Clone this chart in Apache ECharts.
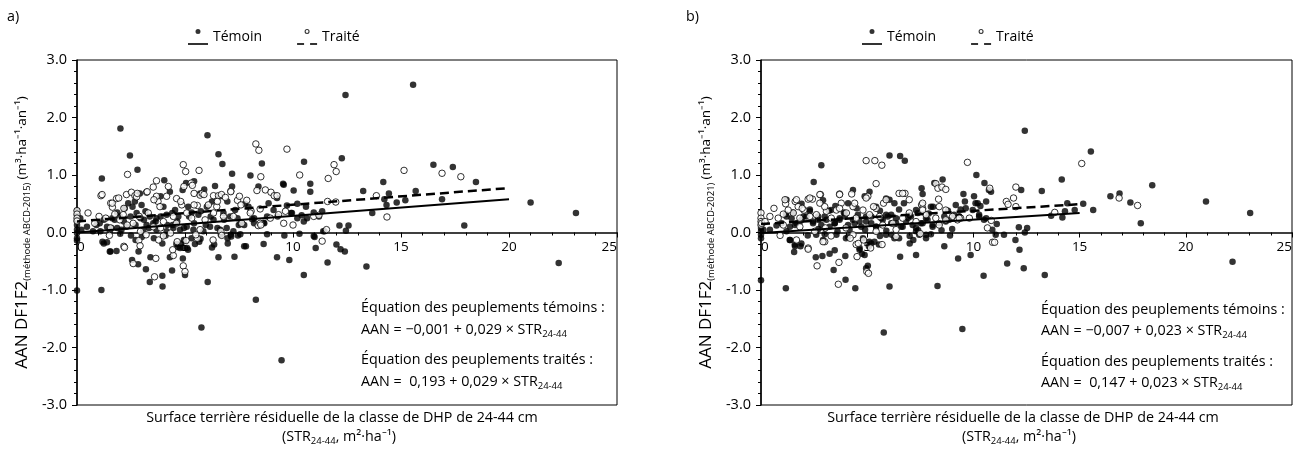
<!DOCTYPE html>
<html>
<head>
<meta charset="utf-8">
<script src="https://cdn.jsdelivr.net/npm/echarts@6/dist/echarts.min.js"></script>
<style>
  body { margin: 0; background: #fff; }
  #chart { width: 1295px; height: 451px; }
</style>
</head>
<body>
<div id="chart"></div>
<script>
// a) ABCD-2015 — témoins (points pleins)
const temoinA = [
  [0,0.38],[0,0.3],[0,0.2],[0,0.13],[0,0.05],[0,-0.01],[0,-0.1],[0,-0.14],[0,-1.01],
  [2.01,1.81],[2.45,1.34],[2.80,1.09],[1.15,0.94],[6.04,1.69],[6.55,1.36],[6.73,1.19],[7.18,1.02],[4.04,0.91],
  [8.56,1.20],[8.03,0.99],[10.51,1.23],[9.57,0.83],[10.8,0.85],[10.8,0.71],[10.6,0.45],[10.5,0.19],
  [12.43,2.39],[15.56,2.57],[12.26,1.29],[13.25,0.72],[14.18,0.88],[16.5,1.18],[17.4,1.14],[18.47,0.88],
  [14.23,0.58],[14.44,0.68],[14.33,0.48],[14.8,0.52],[15.2,0.56],[15.68,0.72],[16.9,0.58],[13.67,0.34],
  [21.0,0.52],[23.1,0.34],[17.93,0.12],[12.15,0.12],[12.57,0.12],[12.45,0.03],[11.46,0.02],
  [0.15,0.25],[0.74,0.02],[1.05,0.16],[1.24,0.22],[1.59,0.08],[1.75,0.22],[1.86,0.35],[1.98,0.28],[2.21,0.42],
  [2.37,0.51],[2.57,0.45],[2.68,0.54],[2.76,0.34],[2.91,0.68],[2.99,0.48],[3.1,0.22],[3.37,0.28],[3.53,0.16],
  [3.68,0.25],[3.87,0.63],[4.0,0.45],[4.15,0.31],[4.3,0.71],[4.43,0.13],[4.54,0.39],[4.69,0.28],[4.89,0.74],
  [5.05,0.86],[5.15,0.45],[5.31,0.35],[5.42,0.89],[5.62,0.31],[5.70,0.68],[5.89,0.75],[6.01,0.45],[6.25,0.54],
  [6.32,0.22],[6.39,0.81],[6.62,0.63],[6.78,0.34],[6.96,0.54],[7.09,0.28],[7.18,0.80],[7.32,0.39],[7.49,0.13],
  [7.58,0.16],[7.78,0.50],[7.94,0.45],[8.11,0.23],[8.2,0.16],[8.4,0.80],[8.64,0.17],[8.8,0.28],[8.87,0.51],
  [9.1,0.39],[9.26,0.60],[9.54,0.85],[9.72,0.47],[9.95,0.34],[10.03,0.73],[10.2,0.50],[10.4,0.30],[10.65,0.25],
  [10.96,0.35],[11.2,0.28],[11.35,0.37],
  [0.2,0.05],[0.46,0.10],[0.9,0.13],[1.52,0.02],[2.06,0.05],[2.29,0.10],[3.07,0.05],[3.22,0.13],[3.68,0.05],
  [4.15,0.02],[4.46,0.08],[4.77,0.05],[5.08,0.10],[5.39,0.05],[5.85,0.02],[6.16,0.10],[6.63,0.05],[6.93,0.08],[7.24,0.02],
  [1.08,0.02],[1.39,0.10],[1.63,0.25],[1.86,0.08],[2.17,0.19],[2.48,0.28],[2.71,0.13],[2.94,0.25],[3.17,0.37],
  [3.33,0.08],[3.64,0.19],[3.87,0.28],[4.18,0.13],[4.41,0.34],[4.64,0.19],[4.95,0.08],[5.19,0.28],[5.42,0.16],
  [5.73,0.37],[5.96,0.13],[6.19,0.28],[6.5,0.08],[6.81,0.22],[7.12,-0.04],[7.43,0.25],[7.74,0.13],[8.2,0.25],
  [8.67,0.16],[9.29,0.28],[9.91,0.34],[10.2,0.25],
  [1.24,-0.19],[1.55,-0.33],[2.71,-0.13],[3.56,-0.1],[3.95,-0.19],[4.95,-0.13],[5.1,-0.27],[6.35,-0.21],[6.97,-0.1],[7.74,-0.24],
  [1.13,-1.0],[1.18,-0.16],[1.39,-0.17],[1.52,-0.33],[1.83,-0.32],[2.55,-0.48],[2.83,-0.55],[2.85,-0.33],[3.19,-0.64],
  [3.37,-0.86],[3.4,-0.43],[3.96,-0.94],[3.95,-0.75],[4.3,-0.43],[4.4,-0.66],[4.6,-0.2],[4.66,-0.25],[4.77,-0.27],
  [4.9,-0.26],[4.82,-0.19],[4.9,-0.45],[5.0,-0.74],[5.14,-0.30],[5.3,-0.1],[5.46,-0.2],[5.66,-0.16],[5.72,-0.11],
  [5.76,-1.65],[6.05,-0.86],[6.25,-0.26],[6.55,-0.43],[6.66,-0.04],[6.98,-0.19],[7.14,-0.07],[7.29,-0.42],[7.45,-0.05],
  [7.56,-0.03],[7.82,-0.24],[8.28,-1.17],[8.64,-0.2],[9.26,-0.43],[9.47,-2.22],[9.83,-0.48],[10.5,-0.74],[10.96,-0.06],
  [11.0,-0.08],[11.05,-0.27],[11.6,-0.52],[11.4,0.02],[12.01,-0.21],[12.2,-0.29],[12.4,-0.33],[13.4,-0.59],[22.3,-0.53],
  [2.0,-0.02],[2.5,-0.05],[3.0,-0.08],[4.1,-0.05],[8.8,-0.03],[9.6,-0.05],[10.3,-0.02]
]

// a) ABCD-2015 — traités (cercles vides)
const traiteA = [
  [0,0.38],[0,0.32],[0,0.25],[0,0.2],
  [2.34,1.01],[1.11,0.64],[4.92,1.18],[5.03,1.06],[5.65,1.08],[3.68,0.90],[8.28,1.54],[8.42,1.43],[8.51,0.97],
  [9.72,1.45],[10.31,1.00],[11.63,0.94],[11.6,0.54],[11.9,1.18],[12.0,1.06],[13.86,0.64],[15.14,1.08],[16.9,1.03],
  [17.77,0.97],[14.35,0.27],[11.98,0.53],
  [1.02,0.28],[0.82,0.16],[1.33,0.25],[1.56,0.51],[1.64,0.44],[1.83,0.59],[2.29,0.66],[2.52,0.70],[2.68,0.64],
  [2.76,0.62],[3.22,0.70],[3.53,0.79],[3.75,0.54],[3.84,0.45],[3.68,0.63],[4.15,0.63],[4.23,0.80],[4.61,0.59],
  [4.85,0.48],[4.95,0.80],[5.29,0.86],[5.34,0.82],[5.42,0.68],[5.57,0.47],[5.70,0.65],[5.8,0.68],[6.08,0.48],
  [6.32,0.64],[6.55,0.64],[6.69,0.66],[6.87,0.61],[7.12,0.72],[7.43,0.56],[7.52,0.63],[7.59,0.48],[7.86,0.56],
  [8.06,0.37],[8.33,0.73],[8.39,0.12],[8.72,0.74],[8.98,0.70],[9.13,0.64],[9.26,0.64],[9.33,0.31],[8.48,0.41],
  [10.0,0.13],[10.96,0.28],[11.2,0.30],[11.55,0.05],
  [0.51,0.34],[1.75,0.32],[1.98,0.22],[2.14,0.31],[2.6,0.16],[2.88,0.28],[3.3,0.34],[3.53,0.10],[4.0,0.19],
  [4.46,0.28],[4.6,0.16],[5.08,0.34],[5.31,0.25],[5.7,0.05],[5.93,0.22],[6.32,0.34],[6.47,0.45],[6.78,0.28],
  [7.24,0.28],[7.63,0.16],[8.02,0.34],[8.48,0.16],[8.95,0.25],[9.57,0.16],[9.65,0.37],
  [1.16,0.66],[1.63,0.51],[2.17,0.42],[1.93,0.60],[2.79,0.68],[3.25,0.71],[3.56,0.57],[4.8,0.54],[5.42,0.48],
  [5.88,0.66],[6.5,0.54],[7.12,0.71],[1.55,0.08],[2.32,0.13],[2.94,0.02],[3.87,0.08],[4.33,-0.01],[4.64,-0.16],
  [5.57,-0.1],[2.17,-0.24],[6.66,0.02],[8.51,0.13],
  [2.2,-0.26],[2.6,-0.54],[2.86,-0.14],[2.92,-0.23],[3.59,-0.77],[3.65,-0.45],[3.78,-0.13],[4.46,-0.40],[4.43,-0.30],
  [4.92,-0.58],[5.0,-0.68],[5.05,-0.14],[6.3,-0.13],[6.7,-0.05],[11.35,-0.15],[1.5,-0.05],[3.2,-0.04],[4.0,-0.06],[5.5,-0.04]
]

// b) ABCD-2021 — témoins
const temoinB = [
  [0,0.08],[0,0.02],[0,-0.04],[0,-0.1],[0,-0.83],
  [2.84,1.17],[2.48,0.88],[6.05,1.34],[6.55,1.33],[6.77,1.25],[10.14,1.0],
  [1.2,0.57],[1.17,0.32],[1.91,0.5],[2.92,0.56],[4.33,0.74],[3.5,0.46],[4.1,0.51],[4.88,0.63],[5.11,0.71],
  [5.89,0.59],[6.05,0.57],[6.28,0.51],[6.73,0.51],[5.42,0.45],[7.56,0.77],[7.3,0.39],[7.61,0.67],[8.16,0.86],
  [8.55,0.92],[8.0,0.45],[8.1,0.45],[9.17,0.48],[9.53,0.67],[9.6,0.54],[10.03,0.63],[10.2,0.51],[10.27,0.28],
  [0.11,0.05],[0.42,0.05],[0.73,0.12],[0.97,0.16],[1.2,0.02],[1.36,0.10],[1.67,0.16],[1.91,0.22],[2.14,0.28],
  [2.45,0.16],[2.69,0.22],[3.0,0.28],[3.23,0.10],[3.47,0.16],[3.7,0.22],[3.94,0.28],[4.17,0.05],[4.41,0.16],
  [4.64,0.19],[4.95,0.28],[5.19,0.16],[5.42,0.10],[5.73,0.22],[5.97,0.28],[6.13,0.31],[6.36,0.16],[6.67,0.10],
  [6.91,0.25],[7.14,0.13],[7.38,0.34],[7.61,0.16],[7.84,0.22],[8.08,0.10],[8.39,0.16],[8.63,0.28],[8.86,0.22],
  [9.09,0.31],[9.33,0.28],
  [1.5,0.35],[2.3,0.4],[3.2,0.38],[3.9,0.35],[4.5,0.42],[5.6,0.38],[6.5,0.4],[7.0,0.3],[7.9,0.33],[8.8,0.38],
  [9.4,0.4],[2.7,0.06],[3.6,0.02],[4.9,0.05],[5.9,0.03],[7.4,0.04],[8.5,0.04],[9.0,0.06],
  [1.2,0.28],[1.44,0.25],[1.6,0.13],[1.83,0.19],[2.0,0.28],[2.3,0.37],[2.45,0.19],[2.69,0.28],[2.84,0.13],
  [3.08,0.22],[3.3,0.39],[3.47,0.16],[3.7,0.25],[3.94,0.34],[4.1,0.13],[4.33,0.22],[4.56,0.31],[4.72,0.10],
  [4.95,0.19],[5.19,0.28],[5.42,0.10],[5.66,0.25],[5.89,0.31],[6.13,0.16],[6.36,0.25],[6.6,0.10],[6.83,0.19],
  [7.06,0.28],[7.3,0.08],[7.53,0.16],[7.77,0.25],[8.08,0.13],[8.7,0.19],[9.33,0.28],[9.64,0.42],[10.1,0.51],[10.27,0.31],
  [1.36,-0.13],[1.6,-0.24],[1.9,-0.19],[2.6,-0.04],[2.92,-0.13],[3.55,-0.04],[4.0,-0.1],[4.64,-0.27],[4.8,-0.1],
  [5.1,-0.16],[5.89,-0.04],[6.5,-0.1],[7.3,0.02],[7.77,-0.04],
  [12.42,1.77],[15.53,1.41],[10.52,0.86],[10.73,0.74],[10.83,0.71],[10.6,0.54],[14.16,0.92],[13.22,0.72],
  [12.25,0.74],[10.33,0.46],[9.97,0.39],[10.5,0.22],[10.6,0.25],[11.1,0.15],[10.89,0.05],[11.05,-0.04],
  [11.44,-0.04],[12.14,0.09],[12.53,0.08],[12.42,0.0],[13.66,0.29],[14.19,0.26],[14.31,0.37],[14.42,0.51],
  [14.77,0.39],[15.17,0.50],[15.64,0.39],[16.45,0.63],[16.88,0.68],[17.39,0.52],[17.88,0.16],[18.42,0.82],
  [20.95,0.54],[23.03,0.34],
  [11.98,-0.13],[12.17,-0.30],[11.59,-0.54],[12.37,-0.62],[10.48,-0.75],[13.36,-0.74],[22.2,-0.51],[9.87,-0.39],
  [1.17,-0.97],[1.36,-0.13],[1.59,-0.21],[1.56,-0.34],[1.86,-0.24],[2.58,-0.43],[2.89,-0.41],[3.23,-0.37],
  [3.42,-0.65],[3.47,-0.31],[3.98,-0.82],[3.97,-0.41],[4.44,-0.97],[4.64,-0.30],[4.75,-0.37],[4.88,-0.39],
  [4.95,-0.62],[5.03,-0.58],[5.08,-0.24],[5.19,-0.19],[5.34,-0.16],[5.55,-0.21],[5.78,-1.74],[6.05,-0.94],
  [6.55,-0.42],[6.16,-0.04],[6.28,-0.1],[7.0,-0.06],[7.0,-0.19],[7.17,-0.13],[7.3,-0.39],[7.45,-0.04],
  [7.77,-0.10],[8.63,-0.24],[8.31,-0.93],[9.48,-1.68],[9.28,-0.45],
  [2.2,-0.05],[3.0,-0.03],[4.1,-0.08],[5.6,-0.06],[8.0,-0.03],[8.9,-0.05]
]

// b) ABCD-2021 — traités
const traiteB = [
  [0,0.34],[0,0.25],[0,0.19],[0,0.13],
  [4.95,1.25],[5.36,1.25],[5.69,1.17],[5.42,0.85],[9.72,1.22],[6.5,0.68],[6.78,0.68],[3.7,0.67],[2.8,0.66],
  [1.16,0.5],[1.05,0.32],[1.61,0.54],[1.75,0.45],[2.22,0.58],[2.42,0.58],[2.77,0.51],[4.27,0.67],[3.78,0.51],
  [4.33,0.45],[5.03,0.63],[5.77,0.51],[5.42,0.42],[7.56,0.48],[7.61,0.42],[8.23,0.85],[8.33,0.77],[8.52,0.79],
  [8.7,0.75],[8.36,0.58],[8.39,0.45],[8.7,0.39],[9.4,0.25],[9.81,0.25],
  [0.03,0.16],[0.19,0.19],[0.42,0.28],[0.61,0.42],[0.81,0.25],[1.05,0.13],[1.52,0.34],[1.83,0.25],[2.02,0.39],
  [2.3,0.28],[2.61,0.31],[3.08,0.37],[3.31,0.25],[3.55,0.39],[4.02,0.34],[4.48,0.25],[4.8,0.39],[5.11,0.31],
  [5.58,0.28],[5.73,0.13],[6.2,0.16],[6.67,0.25],[6.98,0.34],[7.3,0.19],[7.77,0.31],[8.23,0.25],[8.7,0.22],
  [9.02,0.28],[9.25,0.22],
  [1.13,0.57],[1.67,0.57],[2.3,0.60],[2.77,0.66],[3.7,0.66],[1.28,0.39],[1.94,0.42],[3.0,0.45],[3.7,0.42],
  [4.41,0.51],[4.95,0.60],[5.3,0.45],[5.89,0.57],[6.67,0.68],[6.98,0.57],[7.61,0.51],[7.61,0.39],[1.83,0.10],
  [2.53,0.02],[3.03,0.08],[4.0,0.08],[4.33,-0.04],[4.48,-0.21],[3.0,-0.16],[2.22,-0.27],[5.42,0.02],[6.36,0.05],
  [8.39,0.13],[9.33,0.25],
  [15.1,1.2],[10.77,0.77],[12.0,0.79],[11.89,0.60],[11.55,0.54],[11.63,0.49],[12.0,0.45],[10.84,0.21],[10.66,0.08],
  [13.83,0.35],[16.86,0.60],[17.73,0.47],
  [10.9,-0.17],[11.0,-0.17],
  [2.22,-0.29],[1.67,-0.13],[2.64,-0.58],[2.92,-0.16],[3.67,-0.52],[3.64,-0.9],[4.52,-0.42],[4.58,-0.19],
  [4.98,-0.68],[5.06,-0.71],[4.83,-0.13],[5.16,-0.27],[5.7,-0.21],[6.36,-0.07],[0.9,-0.05],[3.3,-0.06],[4.2,-0.1],[7.5,-0.02]
]

// droites de régression (extrémités)
const trendTemoinA = [[0, -0.001], [20, 0.579]]
const trendTraiteA = [[0, 0.193], [20, 0.773]]
const trendTemoinB = [[0, -0.007], [15, 0.338]]
const trendTraiteB = [[0, 0.147], [15, 0.492]]

const FONT = '"Open Sans", sans-serif'
const SIZE = 14.3
const PLOT_H = 345

// icônes de légende : trait + point
const ICON_TEMOIN = 'path://M0,14 L20,14 L20,16 L0,16 Z M7.5,2.5 A2.5,2.5 0 1,1 12.5,2.5 A2.5,2.5 0 1,1 7.5,2.5 Z'
const ICON_TRAITE = 'path://M0,14 L7,14 L7,16 L0,16 Z M13,14 L20,14 L20,16 L13,16 Z M7.5,2.5 A2.5,2.5 0 1,1 12.5,2.5 A2.5,2.5 0 1,1 7.5,2.5 Z M8.6,2.5 A1.4,1.4 0 1,0 11.4,2.5 A1.4,1.4 0 1,0 8.6,2.5 Z'

const subRich = {
  s: { fontSize: 9.5, fontFamily: FONT, lineHeight: 8, verticalAlign: 'bottom', color: '#000' }
}

function legend(left) {
  return {
    left: left,
    top: 29,
    padding: 0,
    itemWidth: 20,
    itemHeight: 16,
    itemGap: 35,
    textStyle: { fontSize: 14, fontFamily: FONT, color: '#000' },
    data: [
      { name: 'Témoin', icon: ICON_TEMOIN, itemStyle: { color: '#000', borderWidth: 0 } },
      { name: 'Traité', icon: ICON_TRAITE, itemStyle: { color: '#000', borderWidth: 0 } }
    ]
  }
}

// axe x placé sur y = 0 (milieu du cadre) grâce à un décalage négatif
function xAxis(i) {
  return {
    gridIndex: i,
    type: 'value',
    min: 0,
    max: 25,
    interval: 5,
    position: 'bottom',
    offset: -PLOT_H / 2,
    axisLine: { onZero: false, lineStyle: { color: '#000', width: 1.5 } },
    axisTick: { length: 5, lineStyle: { color: '#000' } },
    minorTick: { show: true, splitNumber: 5, length: 3, lineStyle: { color: '#000' } },
    splitLine: { show: false },
    axisLabel: {
      color: '#000', fontSize: 13.5, fontFamily: FONT, margin: 8,
      alignMinLabel: 'left', alignMaxLabel: 'right'
    }
  }
}

function yAxis(i, method) {
  return {
    gridIndex: i,
    type: 'value',
    min: -3,
    max: 3,
    interval: 1,
    name: '{m|AAN DF1F2}{s|(méthode ' + method + ')} {u|(m³·ha⁻¹·an⁻¹)}',
    nameLocation: 'middle',
    nameGap: 45,
    nameTextStyle: {
      fontFamily: FONT, color: '#000', lineHeight: 20,
      rich: {
        m: { fontSize: 17, fontFamily: FONT, color: '#000', lineHeight: 20 },
        s: { fontSize: 9.5, fontFamily: FONT, color: '#000', lineHeight: 8, verticalAlign: 'bottom' },
        u: { fontSize: 13.5, fontFamily: FONT, color: '#000', lineHeight: 20 }
      }
    },
    axisLine: { show: true, onZero: false, lineStyle: { color: '#000', width: 1.5 } },
    axisTick: { show: true, length: 5, lineStyle: { color: '#000' } },
    minorTick: { show: true, splitNumber: 5, length: 3, lineStyle: { color: '#000' } },
    splitLine: { show: false },
    axisLabel: { color: '#000', fontSize: 14.5, fontFamily: FONT, margin: 10, formatter: v => v.toFixed(1) }
  }
}

function points(name, data, i, open) {
  return {
    name: name,
    type: 'scatter',
    xAxisIndex: i,
    yAxisIndex: i,
    data: data,
    symbolSize: 6.5,
    itemStyle: open
      ? { color: '#fff', borderColor: '#000', borderWidth: 1 }
      : { color: '#000' },
    z: open ? 3 : 2
  }
}

function trend(name, data, i, dashed) {
  return {
    name: name,
    type: 'line',
    xAxisIndex: i,
    yAxisIndex: i,
    data: data,
    symbol: 'none',
    silent: true,
    itemStyle: { color: '#000' },
    lineStyle: dashed ? { color: '#000', width: 2.5, type: [9, 5] } : { color: '#000', width: 2 },
    z: 4
  }
}

function txt(x, y, text, align) {
  return {
    type: 'text',
    x: x,
    y: y,
    style: {
      text: text,
      fill: '#000',
      fontSize: SIZE,
      fontFamily: FONT,
      lineHeight: 18,
      align: align || 'left',
      verticalAlign: 'middle',
      rich: subRich
    }
  }
}

const option = {
  animation: false,
  backgroundColor: '#fff',
  grid: [
    { left: 77, top: 60, width: 540, height: PLOT_H, show: true, borderColor: '#000', borderWidth: 1 },
    { left: 761, top: 60, width: 533, height: PLOT_H, show: true, borderColor: '#000', borderWidth: 1 }
  ],
  legend: [legend(188), legend(862)],
  xAxis: [xAxis(0), xAxis(1)],
  yAxis: [yAxis(0, 'ABCD-2015'), yAxis(1, 'ABCD-2021')],
  series: [
    points('Témoin', temoinA, 0, false),
    points('Traité', traiteA, 0, true),
    trend('Témoin', trendTemoinA, 0, false),
    trend('Traité', trendTraiteA, 0, true),
    points('Témoin', temoinB, 1, false),
    points('Traité', traiteB, 1, true),
    trend('Témoin', trendTemoinB, 1, false),
    trend('Traité', trendTraiteB, 1, true)
  ],
  graphic: [
    txt(7, 17, 'a)'),
    txt(686, 17, 'b)'),
    // titres de l'axe x
    txt(342, 418, 'Surface terrière résiduelle de la classe de DHP de 24-44 cm', 'center'),
    txt(339, 437, '(STR{s|24-44}, m²·ha⁻¹)', 'center'),
    txt(1023, 418, 'Surface terrière résiduelle de la classe de DHP de 24-44 cm', 'center'),
    txt(1019, 437, '(STR{s|24-44}, m²·ha⁻¹)', 'center'),
    // équations
    txt(361, 308, 'Équation des peuplements témoins :'),
    txt(361, 330, 'AAN = −0,001 + 0,029 × STR{s|24-44}'),
    txt(361, 360, 'Équation des peuplements traités :'),
    txt(361, 382, 'AAN =  0,193 + 0,029 × STR{s|24-44}'),
    txt(1041, 310, 'Équation des peuplements témoins :'),
    txt(1041, 331, 'AAN = −0,007 + 0,023 × STR{s|24-44}'),
    txt(1041, 362, 'Équation des peuplements traités :'),
    txt(1041, 383, 'AAN =  0,147 + 0,023 × STR{s|24-44}')
  ]
}

const chart = echarts.init(document.getElementById('chart'))
chart.setOption(option)
</script>
</body>
</html>
